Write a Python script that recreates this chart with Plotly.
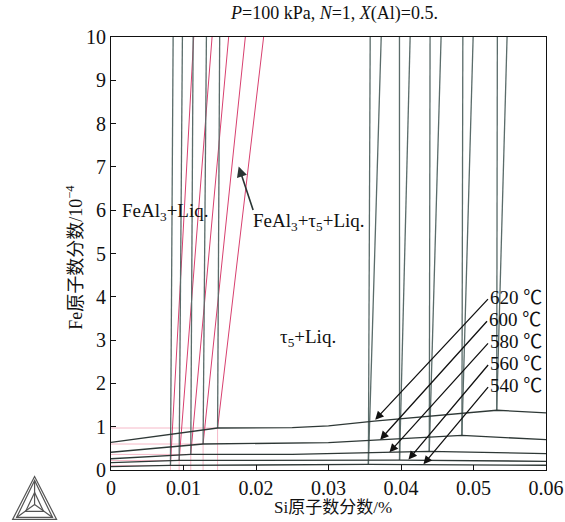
import plotly.graph_objects as go

# ---------------- data ----------------
temps = [540, 560, 580, 600, 620]
temp_labels = ["540 ℃", "560 ℃", "580 ℃", "600 ℃", "620 ℃"]

# lower (liquidus) boundary for each isotherm  (x = Si fraction %, y = Fe fraction /1e-4)
low_x = {
    540: [0, 0.0082, 0.0355, 0.060],
    560: [0, 0.0094, 0.0398, 0.060],
    580: [0, 0.0110, 0.0250, 0.0439, 0.060],
    600: [0, 0.0127, 0.0300, 0.0484, 0.060],
    620: [0, 0.0147, 0.0250, 0.0300, 0.0363, 0.0532, 0.060],
}
low_y = {
    540: [0.08, 0.105, 0.13, 0.11],
    560: [0.17, 0.22, 0.23, 0.20],
    580: [0.26, 0.36, 0.36, 0.43, 0.38],
    600: [0.41, 0.60, 0.63, 0.80, 0.70],
    620: [0.64, 0.97, 0.98, 1.02, 1.13, 1.38, 1.32],
}
# left invariant corner (FeAl3 + tau5 + Liq)
left_kink_x = [0.0082, 0.0094, 0.0110, 0.0127, 0.0147]
left_kink_y = [0.105, 0.22, 0.36, 0.60, 0.97]
left_dark_top_x = [0.00857, 0.00985, 0.01133, 0.01316, 0.01499]
left_red_top_x = [0.01141, 0.01394, 0.01623, 0.01853, 0.02105]
# right invariant corner
right_kink_x = [0.0355, 0.0398, 0.0439, 0.0484, 0.0532]
right_kink_y = [0.13, 0.23, 0.43, 0.80, 1.38]
right_a_top_x = [0.03575, 0.03979, 0.04401, 0.04853, 0.05329]
right_b_top_x = [0.03727, 0.04126, 0.04553, 0.04995, 0.05463]
y_top = 10

# arrows for temperature labels
arrow_tail_x = [0.05219, 0.05219, 0.05219, 0.05205, 0.05219]
arrow_tail_y = [1.95, 2.46, 2.96, 3.47, 3.98]
arrow_tip_x = [0.04310, 0.04103, 0.03841, 0.03713, 0.03644]
arrow_tip_y = [0.13, 0.24, 0.41, 0.70, 1.16]

x_ticks = [0, 0.01, 0.02, 0.03, 0.04, 0.05, 0.06]
x_ticktext = ["0", "0.01", "0.02", "0.03", "0.04", "0.05", "0.06"]
y_ticks = list(range(0, 11))

DARK = "#2e3836"
GRAY = "#5a6c6a"
RED = "#d8406f"
PINK = "#f6b9c8"
SERIF = "Liberation Serif, Times New Roman, Noto Sans CJK SC, serif"

fig = go.Figure()

def add_line(xs, ys, color, width):
    fig.add_trace(go.Scatter(x=xs, y=ys, mode="lines",
                             line=dict(color=color, width=width),
                             hoverinfo="skip", showlegend=False))

# pink guide lines from left corners
for kx, ky in zip(left_kink_x, left_kink_y):
    add_line([0, kx, kx], [ky, ky, 0], PINK, 1)

# red boundaries
for kx, ky, tx in zip(left_kink_x, left_kink_y, left_red_top_x):
    add_line([kx, tx], [ky, y_top], RED, 1)

# gray near-vertical boundaries
for kx, ky, tx in zip(left_kink_x, left_kink_y, left_dark_top_x):
    add_line([kx, tx], [ky, y_top], GRAY, 1.3)
for kx, ky, ta, tb in zip(right_kink_x, right_kink_y, right_a_top_x, right_b_top_x):
    add_line([kx, ta], [ky, y_top], GRAY, 1.3)
    add_line([kx, tb], [ky, y_top], GRAY, 1.3)

# liquidus lines
for t in temps:
    add_line(low_x[t], low_y[t], DARK, 1.3)

LBL = 19
annotations = []
for lab, tx, ty, hx, hy in zip(temp_labels, arrow_tail_x, arrow_tail_y, arrow_tip_x, arrow_tip_y):
    annotations.append(dict(x=hx, y=hy, ax=tx, ay=ty, xref="x", yref="y",
                            axref="x", ayref="y", showarrow=True, text="",
                            arrowhead=2, arrowsize=1.3, arrowwidth=1.3,
                            arrowcolor="#111111"))
    annotations.append(dict(x=tx, y=ty, xref="x", yref="y", text=lab,
                            showarrow=False, xanchor="left", yanchor="middle",
                            xshift=-1, font=dict(family=SERIF, size=LBL, color="#111")))

# region labels
annotations.append(dict(x=0.0013, y=5.96, xref="x", yref="y",
                        text="FeAl<sub>3</sub>+Liq.", showarrow=False,
                        xanchor="left", yanchor="middle",
                        font=dict(family=SERIF, size=LBL, color="#111")))
annotations.append(dict(x=0.0193, y=5.73, xref="x", yref="y",
                        text="FeAl<sub>3</sub>+τ<sub>5</sub>+Liq.", showarrow=False,
                        xanchor="left", yanchor="middle",
                        font=dict(family=SERIF, size=LBL, color="#111")))
annotations.append(dict(x=0.01761, y=7.01, ax=0.01967, ay=5.97, xref="x", yref="y",
                        axref="x", ayref="y", showarrow=True, text="",
                        arrowhead=2, arrowsize=1.3, arrowwidth=1.6,
                        arrowcolor="#2a3534"))
annotations.append(dict(x=0.0231, y=3.06, xref="x", yref="y",
                        text="τ<sub>5</sub>+Liq.", showarrow=False,
                        xanchor="left", yanchor="middle",
                        font=dict(family=SERIF, size=LBL, color="#111")))

# title and axis titles
annotations.append(dict(x=0.513, y=1, xref="paper", yref="paper", yshift=24,
                        text="<i>P</i>=100 kPa, <i>N</i>=1, <i>X</i>(Al)=0.5.",
                        showarrow=False, xanchor="center", yanchor="middle",
                        font=dict(family=SERIF, size=18, color="#111")))
annotations.append(dict(x=0, y=0.49, xref="paper", yref="paper", xshift=-36,
                        text="Fe原子数分数/10<sup>−4</sup>", textangle=-90,
                        showarrow=False, xanchor="center", yanchor="middle",
                        font=dict(family=SERIF, size=18, color="#111")))
annotations.append(dict(x=0.511, y=0, xref="paper", yref="paper", yshift=-37,
                        text="Si原子数分数/%",
                        showarrow=False, xanchor="center", yanchor="middle",
                        font=dict(family=SERIF, size=17, color="#111")))

# Thermo-Calc style logo (decoration, paper coords)
def px(xp):
    return (xp - 110.5) / 435.5
def py(yp):
    return (470.5 - yp) / 433.5
shapes = []
logo_col = "#555"
ax_, ay_ = 34, 477
bl, br, by = 12, 56, 520
cx, cy = 34, 505
tri = f"M {px(ax_)} {py(ay_)} L {px(bl)} {py(by)} L {px(br)} {py(by)} Z"
tri2 = f"M {px(ax_)} {py(ay_+4)} L {px(bl+4)} {py(by-2)} L {px(br-4)} {py(by-2)} Z"
inner = f"M {px(cx)} {py(cy)} L {px(ax_)} {py(ay_+4)} M {px(cx)} {py(cy)} L {px(bl+4)} {py(by-2)} M {px(cx)} {py(cy)} L {px(br-4)} {py(by-2)}"
inner_tri = f"M {px(cx)} {py(cy-12)} L {px(cx-9)} {py(cy+7)} L {px(cx+9)} {py(cy+7)} Z"
for p in (tri, tri2, inner, inner_tri):
    shapes.append(dict(type="path", path=p, xref="paper", yref="paper",
                       line=dict(color=logo_col, width=1.2)))

fig.update_layout(
    width=565, height=522,
    margin=dict(l=111, r=19, t=37, b=52, autoexpand=False),
    paper_bgcolor="white", plot_bgcolor="white",
    annotations=annotations, shapes=shapes,
    font=dict(family=SERIF, size=17, color="#111"),
)
fig.update_xaxes(range=[0, 0.06], tickvals=x_ticks, ticktext=x_ticktext,
                 ticks="inside", ticklen=5, tickcolor="#111", showgrid=False,
                 zeroline=False, showline=True, linecolor="#111", linewidth=1,
                 mirror=True, ticklabeloverflow="allow", automargin=False,
                 tickfont=dict(family=SERIF, size=20, color="#111"))
fig.update_yaxes(range=[0, 10], tickvals=y_ticks, automargin=False,
                 ticks="inside", ticklen=5, tickcolor="#111", showgrid=False,
                 zeroline=False, showline=True, linecolor="#111", linewidth=1,
                 mirror=True, tickfont=dict(family=SERIF, size=20, color="#111"))

fig.write_html("out.html")
